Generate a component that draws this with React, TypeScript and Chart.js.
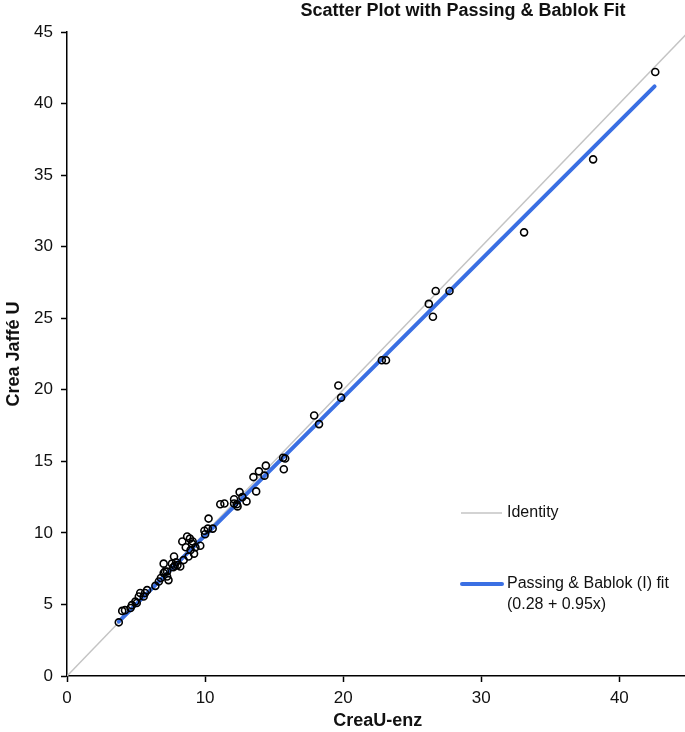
import React, { useEffect, useRef } from "react";
import { Chart, registerables } from "chart.js";

Chart.register(...registerables);

// ---- data ----
const creaEnz: number[] = [
  42.6, 38.1, 33.1, 27.7, 26.7, 26.2, 26.5, 22.8, 23.1, 19.65,
  19.85, 17.9, 18.25, 15.65, 15.8, 15.7, 14.4, 13.9, 13.5, 14.3,
  13.7, 12.5, 12.1, 12.7, 13.0, 11.1, 11.4, 12.1, 12.35, 10.25,
  9.95, 10.2, 10.55, 10.0, 8.7, 9.65, 8.35, 9.05, 8.6, 8.95,
  9.2, 8.45, 8.8, 7.75, 7.6, 8.2, 7.0, 7.1, 7.25, 7.35,
  7.8, 7.9, 3.75, 4.0, 4.2, 4.6, 4.7, 5.05, 5.2, 4.95,
  5.3, 5.65, 5.8, 5.55, 6.4, 6.65, 6.8, 7.0, 7.25, 8.9,
  9.3, 7.7, 8.0, 12.3, 9.1,
];
const creaJaffe: number[] = [
  42.2, 36.1, 31.0, 26.9, 26.9, 26.0, 25.1, 22.06, 22.06, 20.3,
  19.45, 18.2, 17.6, 15.25, 15.2, 14.45, 14.7, 14.3, 13.9, 14.0,
  12.9, 12.85, 12.35, 12.5, 12.2, 12.0, 12.05, 12.05, 11.85, 11.0,
  10.15, 10.3, 10.3, 9.9, 9.75, 9.1, 9.4, 9.25, 9.0, 8.8,
  8.55, 8.1, 8.35, 8.35, 7.85, 7.65, 7.85, 7.3, 6.95, 6.7,
  7.7, 7.95, 3.75, 4.55, 4.6, 4.75, 4.95, 5.1, 5.55, 5.2,
  5.8, 5.8, 6.0, 5.55, 6.3, 6.6, 6.85, 7.2, 7.3, 9.6,
  9.0, 7.6, 7.75, 12.0, 9.4,
];
const fitX: number[] = [3.75, 42.55];
const fitY: number[] = [3.8, 41.2];
const identityX: number[] = [0, 45];
const identityY: number[] = [0, 45];
const xTickValues: number[] = [0, 10, 20, 30, 40];
const yTickValues: number[] = [0, 5, 10, 15, 20, 25, 30, 35, 40, 45];

const titleText = "Scatter Plot with Passing & Bablok Fit";
const xTitle = "CreaU-enz";
const yTitle = "Crea Jaffé U";
const identityLabel = "Identity";
const fitLabel = ["Passing & Bablok (I) fit", "(0.28 + 0.95x)"];

const FONT = "'Liberation Sans', Arial, sans-serif";
const BLUE = "#3a6fe3";
const GREY = "#c4c4c4";

const toPts = (xs: number[], ys: number[]) => xs.map((x, i) => ({ x, y: ys[i] }));

const overlayPlugin = {
  id: "overlay",
  afterDraw(chart: any) {
    const ctx = chart.ctx as CanvasRenderingContext2D;
    ctx.save();
    // title
    ctx.fillStyle = "#111";
    ctx.font = `bold 18px ${FONT}`;
    ctx.textAlign = "center";
    ctx.textBaseline = "middle";
    ctx.fillText(titleText, 463, 11);

    // legend
    ctx.textAlign = "left";
    ctx.font = `16px ${FONT}`;
    ctx.lineCap = "butt";
    ctx.strokeStyle = GREY;
    ctx.lineWidth = 1.5;
    ctx.beginPath();
    ctx.moveTo(461, 513);
    ctx.lineTo(502, 513);
    ctx.stroke();
    ctx.fillStyle = "#111";
    ctx.fillText(identityLabel, 507, 513);

    ctx.strokeStyle = BLUE;
    ctx.lineWidth = 4;
    ctx.lineCap = "round";
    ctx.beginPath();
    ctx.moveTo(462, 584);
    ctx.lineTo(502, 584);
    ctx.stroke();
    ctx.fillText(fitLabel[0], 507, 584);
    ctx.fillText(fitLabel[1], 507, 605);
    ctx.restore();
  },
};

export default function App() {
  const ref = useRef<HTMLCanvasElement | null>(null);

  useEffect(() => {
    document.body.style.margin = "0";
    const canvas = ref.current;
    if (!canvas) return;
    const chart = new Chart(canvas, {
      type: "scatter",
      data: {
        datasets: [
          {
            label: "Data",
            data: toPts(creaEnz, creaJaffe),
            pointRadius: 3.5,
            pointBorderWidth: 1.6,
            pointBorderColor: "#000",
            pointBackgroundColor: "rgba(0,0,0,0)",
            order: 0,
          },
          {
            label: "Passing & Bablok fit",
            data: toPts(fitX, fitY),
            showLine: true,
            borderColor: BLUE,
            borderWidth: 4,
            borderCapStyle: "round",
            pointRadius: 0,
            order: 1,
          },
          {
            label: "Identity",
            data: toPts(identityX, identityY),
            showLine: true,
            borderColor: GREY,
            borderWidth: 1.5,
            pointRadius: 0,
            order: 2,
          },
        ],
      },
      options: {
        responsive: false,
        animation: false,
        events: [],
        layout: { padding: { top: 32, right: 0, left: 0, bottom: 0 } },
        plugins: {
          legend: { display: false },
          title: { display: false },
          tooltip: { enabled: false },
        },
        scales: {
          x: {
            type: "linear",
            min: 0,
            max: 45,
            afterBuildTicks: (s: any) => {
              s.ticks = xTickValues.map((v) => ({ value: v }));
            },
            afterFit: (s: any) => {
              s.height = 56;
            },
            ticks: {
              color: "#111",
              font: { family: FONT, size: 17 },
              padding: 6,
              maxRotation: 0,
            },
            grid: {
              drawOnChartArea: false,
              drawTicks: true,
              tickLength: 6,
              color: "#000",
              tickWidth: 1.5,
            },
            border: { color: "#000", width: 1.5 },
            title: {
              display: true,
              text: xTitle,
              color: "#111",
              font: { family: FONT, size: 18, weight: "bold" },
              padding: { top: 0, bottom: 0 },
            },
          },
          y: {
            type: "linear",
            min: 0,
            max: 45,
            afterBuildTicks: (s: any) => {
              s.ticks = yTickValues.map((v) => ({ value: v }));
            },
            afterFit: (s: any) => {
              s.width = 67;
            },
            ticks: {
              color: "#111",
              font: { family: FONT, size: 17 },
              padding: 8,
            },
            grid: {
              drawOnChartArea: false,
              drawTicks: true,
              tickLength: 6,
              color: "#000",
              tickWidth: 1.5,
            },
            border: { color: "#000", width: 1.5 },
            title: {
              display: true,
              text: yTitle,
              color: "#111",
              font: { family: FONT, size: 18, weight: "bold" },
              padding: { top: 3, bottom: 0 },
            },
          },
        },
      },
      plugins: [overlayPlugin],
    } as any);
    return () => chart.destroy();
  }, []);

  return (
    <div
      style={{
        position: "absolute",
        left: 0,
        top: 0,
        width: 685,
        height: 732,
        overflow: "hidden",
      }}
    >
      <canvas ref={ref} width={694} height={732} style={{ display: "block" }} />
    </div>
  );
}
